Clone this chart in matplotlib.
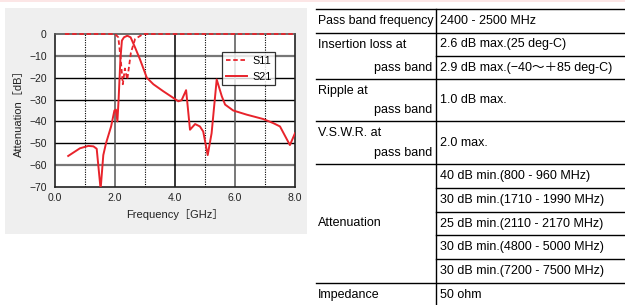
import matplotlib.pyplot as plt
from matplotlib.patches import Rectangle

plt.rcParams['font.family'] = ['Liberation Sans', 'Noto Sans CJK JP', 'DejaVu Sans']

# === Data ===
s21_freq = [0.44, 0.83, 1.11, 1.28, 1.39, 1.52, 1.61, 1.70, 1.87, 1.98, 2.03, 2.08,
            2.12, 2.18, 2.23, 2.30, 2.41, 2.52, 2.67, 2.83, 3.06, 3.28, 3.61, 3.94,
            4.11, 4.22, 4.37, 4.50, 4.67, 4.83, 4.94, 5.09, 5.22, 5.39, 5.56, 5.67,
            5.94, 6.39, 6.94, 7.28, 7.50, 7.83, 8.00]
s21_db = [-55.8, -52.3, -51.2, -51.4, -52.5, -71.0, -55.4, -50.0, -42.3, -35.0, -34.6, -40.0,
          -30.0, -11.5, -3.0, -1.5, -0.8, -1.5, -6.2, -11.5, -20.0, -23.0, -26.2, -29.2,
          -30.8, -30.3, -25.7, -43.8, -41.2, -42.3, -44.6, -55.4, -45.4, -20.8, -28.5, -32.3,
          -35.0, -36.9, -38.9, -40.8, -42.3, -50.8, -45.4]

s11_freq = [0.33, 2.00, 2.11, 2.19, 2.26, 2.33, 2.41, 2.53, 2.67, 2.94, 7.94]
s11_db = [0.0, 0.0, -1.5, -11.5, -23.0, -15.8, -20.8, -8.5, -2.3, 0.0, 0.0]

x_ticks = [0, 2, 4, 6, 8]
x_ticklabels = ["0.0", "2.0", "4.0", "6.0", "8.0"]
x_minor = [1, 3, 5, 7]
y_ticks = [0, -10, -20, -30, -40, -50, -60, -70]

spec_rows = [
    ("Pass band frequency", ["2400 - 2500 MHz"]),
    ("Insertion loss at|pass band", ["2.6 dB max.(25 deg-C)", "2.9 dB max.(−40～＋85 deg-C)"]),
    ("Ripple at|pass band", ["1.0 dB max."]),
    ("V.S.W.R. at|pass band", ["2.0 max."]),
    ("Attenuation", ["40 dB min.(800 - 960 MHz)", "30 dB min.(1710 - 1990 MHz)",
                     "25 dB min.(2110 - 2170 MHz)", "30 dB min.(4800 - 5000 MHz)",
                     "30 dB min.(7200 - 7500 MHz)"]),
    ("Impedance", ["50 ohm"]),
]
# row boundaries (px) for each spec row
row_edges = [9, 33, 79, 121, 164, 283, 312]

red = "#e8232b"
W, H = 625, 305
fig = plt.figure(figsize=(W / 100, H / 100), dpi=100)

# === Background layer (pixel coords) ===
bg = fig.add_axes([0, 0, 1, 1])
bg.set_xlim(0, W)
bg.set_ylim(H, 0)
bg.axis("off")
bg.add_patch(Rectangle((5, 8), 302, 226, color="#efefef", lw=0))
bg.add_patch(Rectangle((0, 0), W, 2, color="#fce6e6", lw=0))

# === Chart ===
ax = fig.add_axes([55 / W, 1 - 187 / H, 240 / W, 153 / H])
ax.set_facecolor("white")
ax.set_xlim(0, 8)
ax.set_ylim(-70, 0)

for y in y_ticks[1:-1]:
    col = "#777777" if y in (-10, -60) else "black"
    lw = 1.6 if y in (-10, -60) else 1.0
    ax.axhline(y, color=col, lw=lw, zorder=1)
for x in x_ticks[1:-1]:
    col = "black" if x == 4 else "#555555"
    ax.axvline(x, color=col, lw=1.1, zorder=1)
for x in x_minor:
    ax.axvline(x, color="black", lw=0.8, ls=(0, (1, 1.2)), zorder=1)

ax.plot(s21_freq, s21_db, color=red, lw=1.4, label="S21", zorder=3)
ax.plot(s11_freq, s11_db, color=red, lw=1.3, ls=(0, (2.5, 1.5)), label="S11",
        zorder=4, clip_on=False)

ax.set_xticks(x_ticks)
ax.set_xticklabels(x_ticklabels)
ax.set_yticks(y_ticks)
ax.tick_params(length=0, labelsize=7.5, colors="#222222")
ax.tick_params(axis="y", pad=6)
ax.tick_params(axis="x", pad=4)
for sp in ax.spines.values():
    sp.set_color("#222222")
    sp.set_linewidth(1.2)
ax.spines["top"].set_color("#555555")

ax.set_xlabel("Frequency［GHz］", fontsize=8, color="#222222", labelpad=5)
ax.set_ylabel("Attenuation［dB］", fontsize=8, color="#222222", labelpad=4)

h, l = ax.get_legend_handles_labels()
leg = ax.legend(h[::-1], l[::-1], loc="upper right", bbox_to_anchor=(0.94, 0.915),
                fontsize=7.8, frameon=True, fancybox=False, handlelength=1.9,
                borderpad=0.35, labelspacing=0.5, handletextpad=0.5)
leg.get_frame().set_edgecolor("black")
leg.get_frame().set_linewidth(0.9)

# === Spec table ===
tx0, tdiv, tx1 = 316, 436, 625
fs = 9
bg.plot([tdiv, tdiv], [row_edges[0], H], color="black", lw=1.0)
for (label, values), top, bot in zip(spec_rows, row_edges[:-1], row_edges[1:]):
    bg.plot([tx0, tx1], [top, top], color="black", lw=1.0)
    step = (bot - top) / len(values) if bot < H else 24
    for i, v in enumerate(values):
        if i > 0:
            yy = top + i * step
            bg.plot([tdiv, tx1], [yy, yy], color="black", lw=1.0)
        bg.text(tdiv + 4, top + (i + 0.5) * step, v, fontsize=fs, va="center", ha="left")
    if "|" in label:
        a, b = label.split("|")
        bg.text(tx0 + 2, top + 12, a, fontsize=fs, va="center", ha="left")
        bg.text(tdiv - 4, bot - 11, b, fontsize=fs, va="center", ha="right")
    else:
        mid = (top + bot) / 2 if bot < H else top + 12
        size = 8.8 if label.startswith("Pass") else fs
        bg.text(tx0 + 2, mid, label, fontsize=size, va="center", ha="left")

fig.savefig("out.png", dpi=100)
